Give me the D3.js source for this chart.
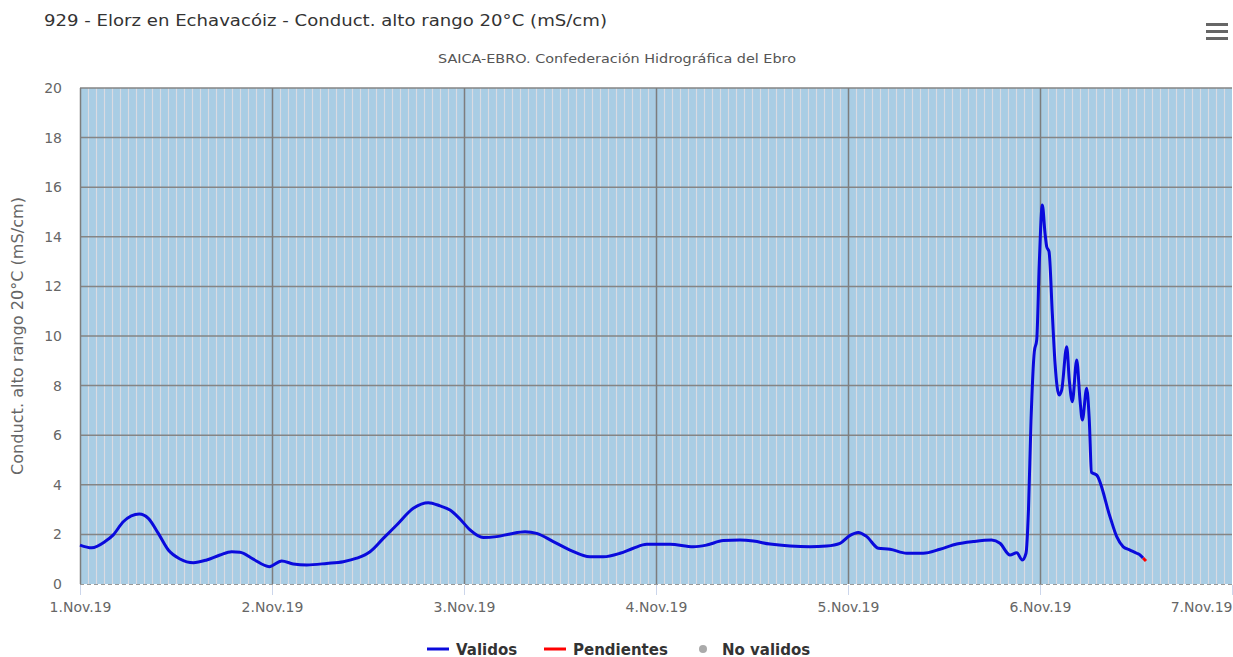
<!DOCTYPE html>
<html>
<head>
<meta charset="utf-8">
<script src="https://cdn.jsdelivr.net/npm/d3@7"></script>
<style>
  body { margin: 0; background: #fff; }
  text { font-family: "DejaVu Sans", sans-serif; }
</style>
</head>
<body>
<div id="chart"></div>
<script>
// Hours since 1.Nov.2019 00:00 and conductivity readings (mS/cm)
var horas = [
  0, 1.46, 3.13, 4.16, 5.41, 7.41, 8.54, 9.79, 11.04, 12.5,
  14.16, 15.84, 17.5, 18.96, 20, 21.66, 23.66, 25.21, 26.66, 28.34,
  30.84, 32.91, 34.59, 36.25, 37.91, 39.59, 41.66, 43.54, 45, 46.25,
  47.5, 48.75, 50.41, 52.09, 53.75, 55.63, 57.09, 59.16, 61.25, 63.75,
  65.41, 67.5, 69.16, 70.84, 73.75, 76.66, 78.34, 80.41, 82.5, 84.16,
  86.25, 88.75, 91.25, 93.34, 95, 96.16, 97.29, 98.34, 99.79, 101.25,
  103.34, 105.41, 107.5, 109.59, 111.66, 113.96, 115, 116.25, 117.09, 117.79,
  118.25, 118.56, 118.88, 119.29, 119.59, 119.91, 120.29, 120.63, 120.84, 121.13,
  121.54, 121.88, 122.38, 122.71, 123.34, 123.66, 124.04, 124.59, 125, 125.29,
  125.84, 126.16, 126.44, 127.09, 128.75, 129.59, 130.41, 131.25, 132.09, 132.5,
  132.88, 133.25];
var valores = [
  1.57, 1.46, 1.71, 1.98, 2.51, 2.82, 2.65, 2.04, 1.37, 1.01,
  0.86, 0.97, 1.17, 1.30, 1.28, 1.0, 0.70, 0.93, 0.81, 0.77,
  0.83, 0.90, 1.04, 1.30, 1.84, 2.38, 3.05, 3.28, 3.15, 2.98,
  2.62, 2.18, 1.87, 1.91, 2.02, 2.11, 2.04, 1.71, 1.37, 1.10,
  1.10, 1.24, 1.44, 1.60, 1.60, 1.50, 1.57, 1.75, 1.77, 1.73,
  1.61, 1.53, 1.50, 1.53, 1.64, 1.94, 2.08, 1.91, 1.44, 1.40,
  1.24, 1.24, 1.40, 1.61, 1.71, 1.77, 1.64, 1.17, 1.26, 0.97,
  1.24, 3.0, 6.61, 9.37, 9.84, 12.93, 15.28, 14.14, 13.60, 13.40,
  10.9, 8.9, 7.62, 7.82, 9.57, 8.23, 7.35, 9.03, 7.42, 6.61,
  7.89, 6.61, 4.5, 4.39, 2.71, 1.91, 1.50, 1.37, 1.24, 1.17,
  1.05, 0.93];
// last reading still pending validation
var nPendientes = 1;
var xTicks = [0, 1, 2, 3, 4, 5, 6];
var yTicks = [0, 2, 4, 6, 8, 10, 12, 14, 16, 18, 20];
var leyenda = ["Validos", "Pendientes", "No validos"];

var inicio = Date.UTC(2019, 10, 1);
var datos = horas.map((h, i) => ({ t: new Date(inicio + h * 3600000), v: valores[i] }));

var W = 1233, H = 657;
var margin = { top: 88, right: 1, bottom: 73, left: 80 };
var width = W - margin.left - margin.right, height = H - margin.top - margin.bottom;

var svg = d3.select("#chart").append("svg").attr("width", W).attr("height", H);

svg.append("text").attr("x", 44).attr("y", 26)
  .style("font-size", "16.5px").attr("fill", "#333")
  .attr("textLength", 563).attr("lengthAdjust", "spacingAndGlyphs")
  .text("929 - Elorz en Echavacóiz - Conduct. alto rango 20°C (mS/cm)");
svg.append("text").attr("x", 617).attr("y", 63).attr("text-anchor", "middle")
  .style("font-size", "13px").attr("fill", "#555")
  .attr("textLength", 358).attr("lengthAdjust", "spacingAndGlyphs")
  .text("SAICA-EBRO. Confederación Hidrográfica del Ebro");

// menu icon
[0, 7, 14].forEach(dy => svg.append("rect").attr("x", 1206).attr("y", 23 + dy)
  .attr("width", 22).attr("height", 3).attr("fill", "#666"));

var g = svg.append("g").attr("transform", `translate(${margin.left},${margin.top})`);

var x = d3.scaleUtc()
  .domain([new Date(inicio), new Date(inicio + 6 * 86400000)])
  .range([0, width]);
var y = d3.scaleLinear().domain([0, 20]).range([height, 0]);

g.append("rect").attr("width", width).attr("height", height).attr("fill", "#a9cde4");

// hourly stripes
var horasGrid = d3.range(1, 6 * 24).filter(h => h % 24 !== 0);
g.selectAll(".hora").data(horasGrid).enter().append("line")
  .attr("x1", h => x(new Date(inicio + h * 3600000)) + 0.5)
  .attr("x2", h => x(new Date(inicio + h * 3600000)) + 0.5)
  .attr("y1", 0).attr("y2", height)
  .attr("stroke", "#eadfe2").attr("stroke-opacity", 0.75).attr("stroke-width", 1.2);

// horizontal grid
g.selectAll(".hgrid").data(yTicks.filter(d => d > 0)).enter().append("line")
  .attr("x1", 0).attr("x2", width)
  .attr("y1", d => y(d)).attr("y2", d => y(d))
  .attr("stroke", "#858585").attr("stroke-width", 1.5);

// day grid
g.selectAll(".vgrid").data(xTicks.slice(0, 6)).enter().append("line")
  .attr("x1", d => x(new Date(inicio + d * 86400000)) + 0.5)
  .attr("x2", d => x(new Date(inicio + d * 86400000)) + 0.5)
  .attr("y1", 0).attr("y2", height)
  .attr("stroke", "#7d7d7d").attr("stroke-width", 1.5);

// zero line (dashed)
g.append("line").attr("x1", 0).attr("x2", width).attr("y1", height + 0.5).attr("y2", height + 0.5)
  .attr("stroke", "#999").attr("stroke-dasharray", "4,3").attr("stroke-width", 1.2);

// x axis
var fmt = d3.utcFormat("%-d.%b.%y");
var xAxis = g.append("g").attr("transform", `translate(0,${height + 1})`)
  .call(d3.axisBottom(x).tickValues(xTicks.map(d => new Date(inicio + d * 86400000)))
    .tickFormat(fmt).tickSize(10).tickPadding(7));
xAxis.select(".domain").remove();
xAxis.selectAll(".tick line").attr("stroke", "#ccd6eb");
xAxis.selectAll("text").style("font-size", "14px").attr("fill", "#666")
  .style("font-family", "'DejaVu Sans', sans-serif");
// keep the last label inside the chart
xAxis.selectAll(".tick").filter((d, i) => i === xTicks.length - 1)
  .select("text").attr("text-anchor", "end").attr("x", 0);

// y axis
var yAxis = g.append("g").call(d3.axisLeft(y).tickValues(yTicks).tickSize(0).tickPadding(18));
yAxis.select(".domain").remove();
yAxis.selectAll("text").style("font-size", "14px").attr("fill", "#666")
  .style("font-family", "'DejaVu Sans', sans-serif");

svg.append("text")
  .attr("transform", `translate(23,${margin.top + height / 2}) rotate(-90)`)
  .attr("text-anchor", "middle").style("font-size", "15px").attr("fill", "#666")
  .attr("textLength", 278).attr("lengthAdjust", "spacingAndGlyphs")
  .text("Conduct. alto rango 20°C (mS/cm)");

// series
var linea = d3.line().x(d => x(d.t)).y(d => y(d.v)).curve(d3.curveMonotoneX);
var corte = datos.length - nPendientes;
g.append("path").datum(datos.slice(0, corte))
  .attr("fill", "none").attr("stroke", "#0a0adc").attr("stroke-width", 3)
  .attr("stroke-linejoin", "round").attr("d", linea);
g.append("path").datum(datos.slice(corte - 1))
  .attr("fill", "none").attr("stroke", "#ff0000").attr("stroke-width", 3)
  .attr("stroke-linejoin", "round").attr("d", linea);

// legend
var legX = [427, 544, 703];
var colores = ["#0a0adc", "#ff0000", "#aaa"];
var lg = svg.append("g").attr("transform", "translate(0,649)");
leyenda.forEach((nombre, i) => {
  if (i < 2) {
    lg.append("line").attr("x1", legX[i]).attr("x2", legX[i] + 22).attr("y1", 0).attr("y2", 0)
      .attr("stroke", colores[i]).attr("stroke-width", 3);
  } else {
    lg.append("circle").attr("cx", legX[i]).attr("cy", 0).attr("r", 4).attr("fill", colores[i]);
  }
  lg.append("text").attr("x", i < 2 ? legX[i] + 29 : legX[i] + 19).attr("y", 5.5)
    .style("font-size", "15px").style("font-weight", "bold").attr("fill", "#333").text(nombre);
});
</script>
</body>
</html>
